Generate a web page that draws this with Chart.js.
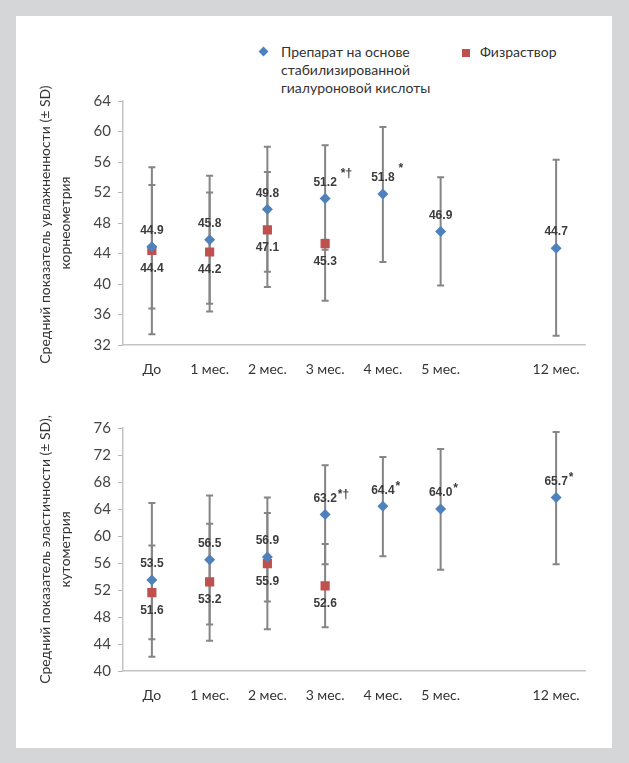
<!DOCTYPE html>
<html>
<head>
<meta charset="utf-8">
<script src="https://cdn.jsdelivr.net/npm/chart.js@4"></script>
<style>
  html, body { margin: 0; padding: 0; }
  body { width: 629px; height: 763px; background: #d4d6d8; position: relative; overflow: hidden; }
  .panel { position: absolute; left: 16px; top: 16px; width: 596px; height: 732px; background: #fff; }
  .box { position: absolute; left: 20px; width: 580px; height: 300px; }
  .legend { position: absolute; font-family: Lato, "Open Sans", sans-serif; font-size: 14px; color: #333; line-height: 18px; }
  .mark { position: absolute; }
</style>
</head>
<body>
<div class="panel"></div>

<div class="mark" style="left:260px;top:48px;width:7px;height:7px;background:#4f81bd;transform:rotate(45deg);"></div>
<div class="legend" style="left:281px;top:43px;">Препарат на основе<br>стабилизированной<br>гиалуроновой кислоты</div>
<div class="mark" style="left:462px;top:49px;width:8px;height:8px;background:#c0504d;"></div>
<div class="legend" style="left:480px;top:43px;">Физраствор</div>

<div class="box" style="top:85px;"><canvas id="top"></canvas></div>
<div class="box" style="top:412px;"><canvas id="bottom"></canvas></div>

<script>
const months = ["До", "1 мес.", "2 мес.", "3 мес.", "4 мес.", "5 мес.", "", "12 мес."];

// увлажненность, корнеометрия
const moistDrug = [44.9, 45.8, 49.8, 51.2, 51.8, 46.9, null, 44.7];
const moistDrugLo = [33.4, 36.4, 39.6, 37.8, 42.9, 39.8, null, 33.2];
const moistDrugHi = [55.3, 54.2, 58.0, 58.2, 60.6, 54.0, null, 56.3];
const moistSaline = [44.4, 44.2, 47.1, 45.3, null, null, null, null];
const moistSalineLo = [36.8, 37.4, 41.6, 44.5, null, null, null, null];
const moistSalineHi = [53.0, 52.0, 54.7, 45.8, null, null, null, null];
const moistMarks = ["", "", "", "*†", "*", "", "", ""];

// эластичность, кутометрия
const elastDrug = [53.5, 56.5, 56.9, 63.2, 64.4, 64.0, null, 65.7];
const elastDrugLo = [42.1, 46.9, 46.2, 55.8, 57.0, 55.0, null, 55.8];
const elastDrugHi = [64.9, 66.0, 65.7, 70.5, 71.7, 72.9, null, 75.4];
const elastSaline = [51.6, 53.2, 55.9, 52.6, null, null, null, null];
const elastSalineLo = [44.7, 44.5, 50.3, 46.5, null, null, null, null];
const elastSalineHi = [58.6, 61.8, 63.4, 58.8, null, null, null, null];
const elastMarks = ["", "", "", "*†", "*", "*", "", "*"];

const blue = "#4f81bd";
const red = "#c0504d";

const errorBars = {
    id: "errorBars",
    beforeDatasetsDraw(chart, args, opts) {
        const ctx = chart.ctx;
        const y = chart.scales.y;
        ctx.save();
        ctx.strokeStyle = "#858585";
        ctx.lineWidth = 2;
        opts.sets.forEach((set, d) => {
            const meta = chart.getDatasetMeta(d);
            set.lo.forEach((lo, i) => {
                if (lo == null) return;
                const x = meta.data[i].x;
                const y1 = y.getPixelForValue(lo), y2 = y.getPixelForValue(set.hi[i]);
                ctx.beginPath();
                ctx.moveTo(x, y1); ctx.lineTo(x, y2);
                ctx.moveTo(x - 3.5, y1); ctx.lineTo(x + 3.5, y1);
                ctx.moveTo(x - 3.5, y2); ctx.lineTo(x + 3.5, y2);
                ctx.stroke();
            });
        });
        ctx.restore();
    }
};

const valueLabels = {
    id: "valueLabels",
    afterDatasetsDraw(chart, args, opts) {
        const ctx = chart.ctx;
        ctx.save();
        ctx.fillStyle = "#3c3c3c";
        ctx.textBaseline = "middle";
        ctx.font = "bold 12px 'Liberation Sans', Arial, sans-serif";
        chart.data.datasets.forEach((ds, d) => {
            const meta = chart.getDatasetMeta(d);
            ds.data.forEach((v, i) => {
                if (v == null) return;
                const p = meta.data[i];
                const ty = p.y + (d === 0 ? -16 : 18);
                const txt = v.toFixed(1);
                ctx.textAlign = "center";
                ctx.fillText(txt, p.x, ty);
                const mark = d === 0 ? opts.marks[i] : "";
                if (mark) {
                    const w = ctx.measureText(txt).width;
                    ctx.textAlign = "left";
                    ctx.fillText(mark, p.x + w / 2 + opts.gap, ty - opts.raise);
                }
            });
        });
        ctx.restore();
    }
};

function makeChart(id, drug, saline, sets, marks, yMin, yMax, title, padTop, xHeight, gap, raise) {
    return new Chart(document.getElementById(id), {
        type: "line",
        data: {
            labels: months,
            datasets: [{
                data: drug,
                showLine: false,
                pointStyle: "rectRot",
                pointRadius: 5.5,
                pointHoverRadius: 5.5,
                backgroundColor: blue,
                borderColor: blue,
                borderWidth: 0
            }, {
                data: saline,
                showLine: false,
                pointStyle: "rect",
                pointRadius: 6.5,
                pointHoverRadius: 6.5,
                backgroundColor: red,
                borderColor: red,
                borderWidth: 0
            }]
        },
        options: {
            responsive: true,
            maintainAspectRatio: false,
            animation: false,
            layout: { padding: { top: padTop, right: 15, left: 16, bottom: 0 } },
            scales: {
                x: {
                    offset: true,
                    grid: { display: false, offset: true },
                    border: { display: true, color: "#c4c4c4", width: 1.5 },
                    ticks: { color: "#333", font: { family: "Lato", size: 14 }, padding: 8, maxRotation: 0, autoSkip: false },
                    afterFit: s => { s.height = xHeight; }
                },
                y: {
                    min: yMin,
                    max: yMax,
                    grid: { drawOnChartArea: false, drawTicks: true, tickLength: 5, color: "#b5b5b5" },
                    border: { display: true, color: "#c4c4c4", width: 1.5 },
                    ticks: { stepSize: 4, color: "#444", font: { family: "Lato", size: 15 }, padding: 7 },
                    title: {
                        display: true,
                        text: title,
                        color: "#333",
                        font: { family: "Lato", size: 14, lineHeight: 1.4 },
                        padding: { top: 0, bottom: 4 }
                    },
                    afterFit: s => { s.width = 87; }
                }
            },
            plugins: {
                legend: { display: false },
                tooltip: { enabled: false },
                errorBars: { sets: sets },
                valueLabels: { marks: marks, gap: gap, raise: raise }
            }
        },
        plugins: [errorBars, valueLabels]
    });
}

makeChart("top", moistDrug, moistSaline,
    [{ lo: moistDrugLo, hi: moistDrugHi }, { lo: moistSalineLo, hi: moistSalineHi }],
    moistMarks, 32, 64,
    ["Средний показатель увлажненности (± SD),", "корнеометрия"], 13, 40, 4, 9);

makeChart("bottom", elastDrug, elastSaline,
    [{ lo: elastDrugLo, hi: elastDrugHi }, { lo: elastSalineLo, hi: elastSalineHi }],
    elastMarks, 40, 76,
    ["Средний показатель эластичности (± SD),", "кутометрия"], 15, 41, 1, 4);
</script>
</body>
</html>
